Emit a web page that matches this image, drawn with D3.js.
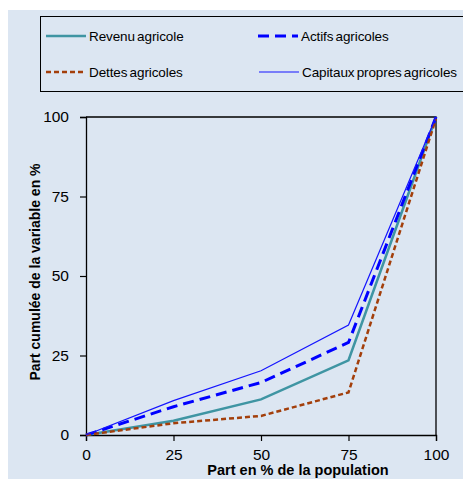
<!DOCTYPE html>
<html><head><meta charset="utf-8">
<script src="https://cdn.jsdelivr.net/npm/d3@7"></script>
<style>body{margin:0;background:#fff;}svg{display:block;font-family:"Liberation Sans",Arial,sans-serif;}</style>
</head><body>
<svg id="c" width="463" height="479"></svg>
<script>
const xValues = [0, 25, 50, 75, 100];
const revenu = [0, 4.5, 11.2, 23.5, 100];
const actifs = [0, 8.9, 16.5, 29.1, 100];
const dettes = [0, 3.7, 6.0, 13.4, 99.5];
const capitaux = [0, 10.8, 20.2, 34.6, 100];
const xTicks = [0, 25, 50, 75, 100];
const yTicks = [0, 25, 50, 75, 100];
const seriesNames = ["Revenu agricole", "Actifs agricoles", "Dettes agricoles", "Capitaux propres agricoles"];

const svg = d3.select("#c");
svg.append("rect").attr("x", 8).attr("y", 10).attr("width", 455).attr("height", 469).attr("fill", "#DCE6F2");

const x = d3.scaleLinear().domain([0, 100]).range([86, 436]);
const y = d3.scaleLinear().domain([0, 100]).range([435, 117]);

svg.append("path").attr("d", `M${x(0)},${y(100)}H${x(100)}V${y(0)}`).attr("fill", "none").attr("stroke", "#000").attr("stroke-width", 1.3);

const xAxis = svg.append("g").attr("transform", `translate(0,${y(0)})`)
  .call(d3.axisBottom(x).tickValues(xTicks).tickSize(6).tickPadding(8).tickFormat(d3.format("d")));
const yAxis = svg.append("g").attr("transform", `translate(${x(0)},0)`)
  .call(d3.axisLeft(y).tickValues(yTicks).tickSize(6).tickPadding(11).tickFormat(d3.format("d")));
[xAxis, yAxis].forEach(a => {
  a.select(".domain").attr("stroke", "#000").attr("stroke-width", 1.3);
  a.selectAll(".tick line").attr("stroke", "#000").attr("stroke-width", 1.2);
  a.selectAll("text").attr("font-size", 15.5).attr("fill", "#000").attr("font-family", "Liberation Sans, Arial, sans-serif");
});

const styles = [
  {data: revenu, color: "#3F95A3", width: 2.5, dash: null},
  {data: actifs, color: "#0000FF", width: 3, dash: "11,6"},
  {data: dettes, color: "#A33F0B", width: 2.5, dash: "5,3"},
  {data: capitaux, color: "#1414FF", width: 1.2, dash: null}
];
const line = d3.line().x((d, i) => x(xValues[i])).y(d => y(d));
styles.forEach(s => {
  svg.append("path").datum(s.data).attr("d", line).attr("fill", "none")
    .attr("stroke", s.color).attr("stroke-width", s.width)
    .attr("stroke-dasharray", s.dash).attr("stroke-linejoin", "miter");
});

svg.append("text").attr("x", 298).attr("y", 475).attr("text-anchor", "middle")
  .attr("font-size", 14.5).attr("font-weight", "bold").text("Part en % de la population");
svg.append("text").attr("transform", `translate(40,272) rotate(-90)`).attr("text-anchor", "middle")
  .attr("font-size", 14).attr("font-weight", "bold").text("Part cumulée de la variable en %");

svg.append("rect").attr("x", 40.5).attr("y", 16.5).attr("width", 440).attr("height", 75)
  .attr("fill", "#DCE6F2").attr("stroke", "#000").attr("stroke-width", 1);
const legPos = [[46, 36], [258, 36], [46, 72], [259, 72]];
styles.forEach((s, i) => {
  const [lx, ly] = legPos[i];
  svg.append("line").attr("x1", lx).attr("x2", lx + 40).attr("y1", ly).attr("y2", ly)
    .attr("stroke", s.color).attr("stroke-width", s.width).attr("stroke-dasharray", s.dash);
  svg.append("text").attr("x", lx + 43).attr("y", ly + 5).attr("font-size", 13.5)
    .attr("word-spacing", -1.5).attr("letter-spacing", -0.1).text(seriesNames[i]);
});
</script>
</body></html>
